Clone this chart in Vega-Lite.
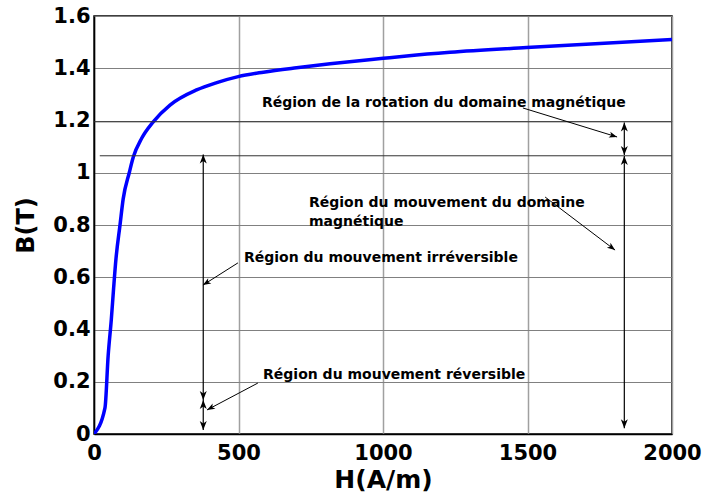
{
  "$schema": "https://vega.github.io/schema/vega-lite/v6.json",
  "width": 578,
  "height": 418,
  "autosize": {"type": "none"},
  "padding": {"left": 94, "top": 16, "right": 30, "bottom": 61},
  "background": "white",
  "config": {
    "view": {"stroke": "black", "strokeWidth": 1.5},
    "axis": {
      "labelFont": "DejaVu Sans",
      "labelFontWeight": "bold",
      "labelFontSize": 21,
      "labelColor": "black",
      "labelFlush": false,
      "labelOverlap": false,
      "titleFont": "DejaVu Sans",
      "titleFontWeight": "bold",
      "titleColor": "black",
      "domainColor": "black",
      "domainWidth": 1.5,
      "tickSize": 0,
      "grid": true,
      "gridOpacity": 1
    },
    "axisX": {"titleFontSize": 25, "titlePadding": 4, "labelPadding": 8, "gridColor": "#a0a0a0", "gridWidth": 1.5},
    "axisY": {"titleFontSize": 24, "titlePadding": 14, "labelPadding": 4, "gridColor": "#808080", "gridWidth": 1}
  },
  "datasets": {
    "curve": [
      {"H": 0, "B": 0}, {"H": 38, "B": 0.10}, {"H": 49, "B": 0.30}, {"H": 60, "B": 0.44},
      {"H": 68, "B": 0.56}, {"H": 76, "B": 0.67}, {"H": 90, "B": 0.80}, {"H": 101, "B": 0.90},
      {"H": 122, "B": 1.00}, {"H": 136, "B": 1.06}, {"H": 165, "B": 1.132}, {"H": 205, "B": 1.195},
      {"H": 263, "B": 1.259}, {"H": 355, "B": 1.317}, {"H": 425, "B": 1.345}, {"H": 499, "B": 1.368},
      {"H": 586, "B": 1.385}, {"H": 701, "B": 1.402}, {"H": 817, "B": 1.417}, {"H": 1001, "B": 1.438},
      {"H": 1082, "B": 1.447}, {"H": 1232, "B": 1.461}, {"H": 1497, "B": 1.479}, {"H": 1750, "B": 1.495},
      {"H": 2000, "B": 1.51}
    ],
    "levels": [
      {"B": 1.195, "H": 0, "H2": 2000},
      {"B": 1.065, "H": 20, "H2": 2000}
    ],
    "spans": [
      {"H": 378, "B": 1.07, "B2": 0.13},
      {"H": 378, "B": 0.13, "B2": 0.015},
      {"H": 1835, "B": 1.192, "B2": 1.068},
      {"H": 1835, "B": 1.064, "B2": 0.022}
    ],
    "heads": [
      {"H": 378, "B": 1.07, "dir": "up"},
      {"H": 378, "B": 0.13, "dir": "down"},
      {"H": 378, "B": 0.13, "dir": "up"},
      {"H": 378, "B": 0.015, "dir": "down"},
      {"H": 1835, "B": 1.192, "dir": "up"},
      {"H": 1835, "B": 1.068, "dir": "down"},
      {"H": 1835, "B": 1.064, "dir": "up"},
      {"H": 1835, "B": 0.022, "dir": "down"}
    ],
    "pointers": [
      {"id": "rotation", "H": 1810, "B": 1.137, "H2": 1484, "B2": 1.248},
      {"id": "domaine", "H": 1803, "B": 0.704, "H2": 1561, "B2": 0.907},
      {"id": "irreversible", "H": 377, "B": 0.570, "H2": 498, "B2": 0.655},
      {"id": "reversible", "H": 391, "B": 0.092, "H2": 567, "B2": 0.195}
    ],
    "notes": [
      {"H": 581, "B": 1.268, "label": ["Région de la rotation du domaine magnétique"]},
      {"H": 744, "B": 0.886, "label": ["Région du mouvement du domaine", "magnétique"]},
      {"H": 519, "B": 0.674, "label": ["Région du mouvement irréversible"]},
      {"H": 585, "B": 0.226, "label": ["Région du mouvement réversible"]}
    ]
  },
  "layer": [
    {
      "data": {"name": "curve"},
      "mark": {"type": "line", "color": "#0000ff", "strokeWidth": 3.5, "interpolate": "monotone", "clip": true},
      "encoding": {
        "x": {"field": "H", "type": "quantitative", "title": "H(A/m)",
          "scale": {"domain": [0, 2000], "nice": false, "zero": false},
          "axis": {"values": [0, 500, 1000, 1500, 2000], "format": "d"}},
        "y": {"field": "B", "type": "quantitative", "title": "B(T)",
          "scale": {"domain": [0, 1.6], "nice": false},
          "axis": {"values": [0, 0.2, 0.4, 0.6, 0.8, 1, 1.2, 1.4, 1.6], "format": "~g"}}
      }
    },
    {
      "data": {"name": "levels"},
      "mark": {"type": "rule", "color": "#333333", "strokeWidth": 1},
      "encoding": {
        "y": {"field": "B", "type": "quantitative", "title": "B(T)",
          "axis": {"values": [0, 0.2, 0.4, 0.6, 0.8, 1, 1.2, 1.4, 1.6], "format": "~g"}},
        "x": {"field": "H", "type": "quantitative", "title": "H(A/m)",
          "axis": {"values": [0, 500, 1000, 1500, 2000], "format": "d"}},
        "x2": {"field": "H2"}
      }
    },
    {
      "data": {"name": "spans"},
      "mark": {"type": "rule", "color": "black", "strokeWidth": 1.2},
      "encoding": {
        "x": {"field": "H", "type": "quantitative", "title": "H(A/m)",
          "axis": {"values": [0, 500, 1000, 1500, 2000], "format": "d"}},
        "y": {"field": "B", "type": "quantitative", "title": "B(T)",
          "axis": {"values": [0, 0.2, 0.4, 0.6, 0.8, 1, 1.2, 1.4, 1.6], "format": "~g"}},
        "y2": {"field": "B2"}
      }
    },
    {
      "data": {"name": "pointers"},
      "mark": {"type": "rule", "color": "black", "strokeWidth": 1},
      "encoding": {
        "x": {"field": "H", "type": "quantitative", "title": "H(A/m)",
          "axis": {"values": [0, 500, 1000, 1500, 2000], "format": "d"}},
        "y": {"field": "B", "type": "quantitative", "title": "B(T)",
          "axis": {"values": [0, 0.2, 0.4, 0.6, 0.8, 1, 1.2, 1.4, 1.6], "format": "~g"}},
        "x2": {"field": "H2"},
        "y2": {"field": "B2"}
      }
    },
    {
      "data": {"name": "heads"},
      "transform": [{"filter": "datum.dir === 'up'"}],
      "mark": {"type": "point", "shape": "M0,0 L-0.7,1.8 L0,1.3 L0.7,1.8 Z", "size": 100, "filled": true, "color": "black", "opacity": 1, "angle": 0},
      "encoding": {
        "x": {"field": "H", "type": "quantitative", "title": "H(A/m)",
          "axis": {"values": [0, 500, 1000, 1500, 2000], "format": "d"}},
        "y": {"field": "B", "type": "quantitative", "title": "B(T)",
          "axis": {"values": [0, 0.2, 0.4, 0.6, 0.8, 1, 1.2, 1.4, 1.6], "format": "~g"}}
      }
    },
    {
      "data": {"name": "heads"},
      "transform": [{"filter": "datum.dir === 'down'"}],
      "mark": {"type": "point", "shape": "M0,0 L-0.7,1.8 L0,1.3 L0.7,1.8 Z", "size": 100, "filled": true, "color": "black", "opacity": 1, "angle": 180},
      "encoding": {
        "x": {"field": "H", "type": "quantitative", "title": "H(A/m)",
          "axis": {"values": [0, 500, 1000, 1500, 2000], "format": "d"}},
        "y": {"field": "B", "type": "quantitative", "title": "B(T)",
          "axis": {"values": [0, 0.2, 0.4, 0.6, 0.8, 1, 1.2, 1.4, 1.6], "format": "~g"}}
      }
    },
    {
      "data": {"name": "pointers"},
      "transform": [{"filter": "datum.id === 'rotation'"}],
      "mark": {"type": "point", "shape": "M0,0 L-0.6,1.6 L0,1.2 L0.6,1.6 Z", "size": 100, "filled": true, "color": "black", "opacity": 1, "angle": 107},
      "encoding": {
        "x": {"field": "H", "type": "quantitative", "title": "H(A/m)",
          "axis": {"values": [0, 500, 1000, 1500, 2000], "format": "d"}},
        "y": {"field": "B", "type": "quantitative", "title": "B(T)",
          "axis": {"values": [0, 0.2, 0.4, 0.6, 0.8, 1, 1.2, 1.4, 1.6], "format": "~g"}}
      }
    },
    {
      "data": {"name": "pointers"},
      "transform": [{"filter": "datum.id === 'domaine'"}],
      "mark": {"type": "point", "shape": "M0,0 L-0.6,1.6 L0,1.2 L0.6,1.6 Z", "size": 100, "filled": true, "color": "black", "opacity": 1, "angle": 127},
      "encoding": {
        "x": {"field": "H", "type": "quantitative", "title": "H(A/m)",
          "axis": {"values": [0, 500, 1000, 1500, 2000], "format": "d"}},
        "y": {"field": "B", "type": "quantitative", "title": "B(T)",
          "axis": {"values": [0, 0.2, 0.4, 0.6, 0.8, 1, 1.2, 1.4, 1.6], "format": "~g"}}
      }
    },
    {
      "data": {"name": "pointers"},
      "transform": [{"filter": "datum.id === 'irreversible'"}],
      "mark": {"type": "point", "shape": "M0,0 L-0.6,1.6 L0,1.2 L0.6,1.6 Z", "size": 100, "filled": true, "color": "black", "opacity": 1, "angle": 238},
      "encoding": {
        "x": {"field": "H", "type": "quantitative", "title": "H(A/m)",
          "axis": {"values": [0, 500, 1000, 1500, 2000], "format": "d"}},
        "y": {"field": "B", "type": "quantitative", "title": "B(T)",
          "axis": {"values": [0, 0.2, 0.4, 0.6, 0.8, 1, 1.2, 1.4, 1.6], "format": "~g"}}
      }
    },
    {
      "data": {"name": "pointers"},
      "transform": [{"filter": "datum.id === 'reversible'"}],
      "mark": {"type": "point", "shape": "M0,0 L-0.6,1.6 L0,1.2 L0.6,1.6 Z", "size": 100, "filled": true, "color": "black", "opacity": 1, "angle": 242},
      "encoding": {
        "x": {"field": "H", "type": "quantitative", "title": "H(A/m)",
          "axis": {"values": [0, 500, 1000, 1500, 2000], "format": "d"}},
        "y": {"field": "B", "type": "quantitative", "title": "B(T)",
          "axis": {"values": [0, 0.2, 0.4, 0.6, 0.8, 1, 1.2, 1.4, 1.6], "format": "~g"}}
      }
    },
    {
      "data": {"name": "notes"},
      "mark": {"type": "text", "align": "left", "baseline": "middle", "font": "DejaVu Sans", "fontWeight": "bold", "fontSize": 14, "lineHeight": 19, "color": "black"},
      "encoding": {
        "x": {"field": "H", "type": "quantitative", "title": "H(A/m)",
          "axis": {"values": [0, 500, 1000, 1500, 2000], "format": "d"}},
        "y": {"field": "B", "type": "quantitative", "title": "B(T)",
          "axis": {"values": [0, 0.2, 0.4, 0.6, 0.8, 1, 1.2, 1.4, 1.6], "format": "~g"}},
        "text": {"field": "label"}
      }
    }
  ]
}
